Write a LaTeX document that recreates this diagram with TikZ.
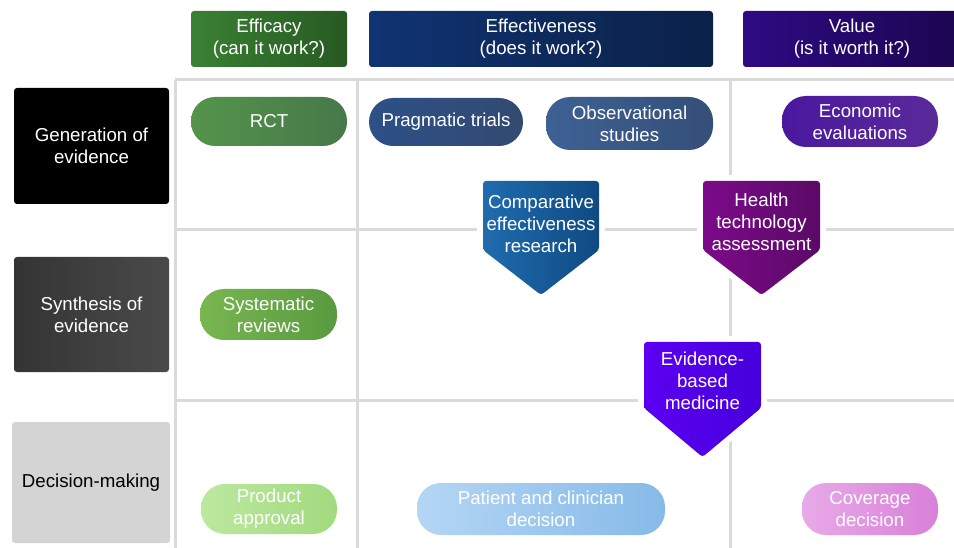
\documentclass[tikz,border=0pt]{standalone}
\usepackage{fontspec}
\setmainfont{Liberation Sans}
\definecolor{gridc}{HTML}{DADADA}
\definecolor{effA}{HTML}{3A8033}
\definecolor{effB}{HTML}{275A22}
\definecolor{tivA}{HTML}{103372}
\definecolor{tivB}{HTML}{0B2148}
\definecolor{valA}{HTML}{2E0A82}
\definecolor{valB}{HTML}{1C0650}
\definecolor{synA}{HTML}{343434}
\definecolor{synB}{HTML}{4A4A4A}
\definecolor{decC}{HTML}{D4D4D4}
\definecolor{rctA}{HTML}{55944B}
\definecolor{rctB}{HTML}{47784A}
\definecolor{praA}{HTML}{2D5088}
\definecolor{praB}{HTML}{334A70}
\definecolor{obsA}{HTML}{3E6194}
\definecolor{obsB}{HTML}{344F78}
\definecolor{ecoA}{HTML}{4A189E}
\definecolor{ecoB}{HTML}{5A2A9A}
\definecolor{sysA}{HTML}{78B650}
\definecolor{sysB}{HTML}{5A9A40}
\definecolor{proA}{HTML}{BCE8A0}
\definecolor{proB}{HTML}{A2DA7E}
\definecolor{patA}{HTML}{B4D6F4}
\definecolor{patB}{HTML}{86BAE8}
\definecolor{covA}{HTML}{E8AAE8}
\definecolor{covB}{HTML}{D880D8}
\definecolor{cerA}{HTML}{1F6CAE}
\definecolor{cerB}{HTML}{0F4A82}
\definecolor{htaA}{HTML}{7C0A8A}
\definecolor{htaB}{HTML}{5A0A66}
\definecolor{ebmA}{HTML}{5C00F2}
\definecolor{ebmB}{HTML}{4600DC}
\newcommand{\lblfont}{\fontsize{18.7}{22.3}\selectfont}
\begin{document}
\begin{tikzpicture}[x=1pt,y=-1pt,
  gridline/.style={draw=gridc, line width=3pt},
  boxbase/.style={align=center, font=\lblfont, inner sep=0pt, text=white},
  hdr/.style={boxbase, rounded corners=3pt, minimum height=56pt},
  rowlbl/.style={boxbase, rounded corners=3pt},
  pill/.style={boxbase, rounded corners=24pt},
  pent/.style={rounded corners=3pt, preaction={draw=white, line width=12pt}},
  penttext/.style={boxbase}
]
\useasboundingbox (0,0) rectangle (954,548);
\fill[white] (0,0) rectangle (954,548);

% grid
\coordinate (gTL) at (175,80);
\coordinate (gTR) at (954,80);
\coordinate (gBL) at (175,548);
\coordinate (v2t) at (357,80);
\coordinate (v2b) at (357,548);
\coordinate (v3t) at (730,80);
\coordinate (v3b) at (730,548);
\coordinate (h2l) at (175,230);
\coordinate (h2r) at (954,230);
\coordinate (h3l) at (175,400);
\coordinate (h3r) at (954,400);
\draw[gridline] (gTL) -- (gTR);
\draw[gridline] (gTL) -- (gBL);
\draw[gridline] (v2t) -- (v2b);
\draw[gridline] (v3t) -- (v3b);
\draw[gridline] (h2l) -- (h2r);
\draw[gridline] (h3l) -- (h3r);

% headers
\node[hdr, minimum width=156pt, left color=effA, right color=effB] (hEff) at (269,39) {Efficacy\\(can it work?)};
\node[hdr, minimum width=344pt, left color=tivA, right color=tivB] (hTiv) at (541,39) {Effectiveness\\(does it work?)};
\node[hdr, minimum width=218pt, left color=valA, right color=valB] (hVal) at (852,39) {Value\\(is it worth it?)};

% row labels
\node[rowlbl, fill=black, minimum width=155pt, minimum height=116pt] (rGen) at (91.5,146) {Generation of\\evidence};
\node[rowlbl, left color=synA, right color=synB, minimum width=155pt, minimum height=115pt] (rSyn) at (91.5,314.5) {Synthesis of\\evidence};
\node[rowlbl, fill=decC, text=black, minimum width=158pt, minimum height=121pt] (rDec) at (91,482.5) {Decision-making};

% pills
\node[pill, left color=rctA, right color=rctB, minimum width=156pt, minimum height=49pt] (rct) at (269,121.5) {RCT};
\node[pill, left color=praA, right color=praB, minimum width=154pt, minimum height=48pt] (prag) at (446,122) {Pragmatic trials};
\node[pill, left color=obsA, right color=obsB, minimum width=167pt, minimum height=53pt] (obs) at (629.5,123.5) {Observational\\studies};
\node[pill, left color=ecoA, right color=ecoB, minimum width=156pt, minimum height=51pt] (econ) at (860,121.5) {Economic\\evaluations};
\node[pill, left color=sysA, right color=sysB, minimum width=137pt, minimum height=51pt] (sys) at (268.5,314.5) {Systematic\\reviews};
\node[pill, left color=proA, right color=proB, minimum width=136pt, minimum height=50pt] (prod) at (269,509) {Product\\approval};
\node[pill, left color=patA, right color=patB, minimum width=248pt, minimum height=52pt] (pat) at (541,509) {Patient and clinician\\decision};
\node[pill, left color=covA, right color=covB, minimum width=136pt, minimum height=52pt] (cov) at (870,509) {Coverage\\decision};

% pentagon arrows
\path[pent, left color=cerA, right color=cerB] (483,181) -- (599,181) -- (599,250) -- (541,295) -- (483,250) -- cycle;
\node[penttext] (cer) at (541,224) {Comparative\\effectiveness\\research};
\path[pent, left color=htaA, right color=htaB] (703,181) -- (820,181) -- (820,250) -- (761.5,295) -- (703,250) -- cycle;
\node[penttext] (hta) at (761.5,222) {Health\\technology\\assessment};
\path[pent, left color=ebmA, right color=ebmB] (644,342) -- (761,342) -- (761,408) -- (702.5,457) -- (644,408) -- cycle;
\node[penttext] (ebm) at (702.5,381) {Evidence-\\based\\medicine};
\end{tikzpicture}
\end{document}
